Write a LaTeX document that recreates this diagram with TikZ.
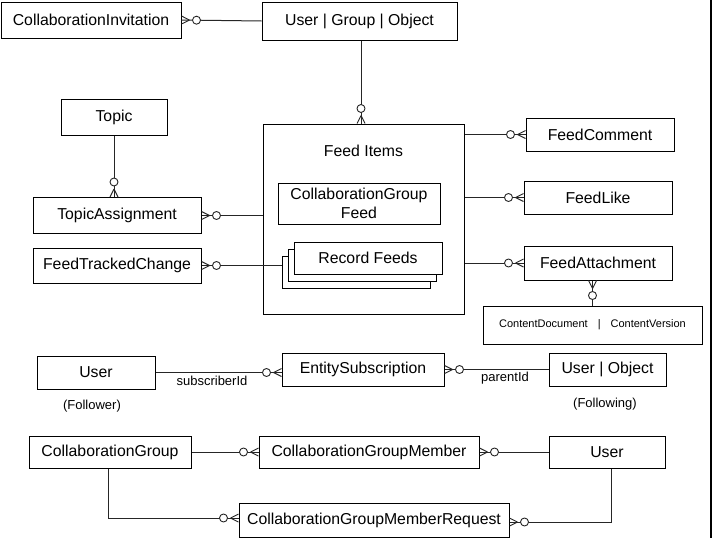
\documentclass[tikz,border=0pt]{standalone}
\usepackage{fontspec}
\setmainfont{Liberation Sans}
\usetikzlibrary{decorations.markings,calc}
\tikzset{
  ent/.style={draw=black, line width=1pt, fill=white, inner sep=0pt, align=center,
    font=\fontsize{15.8}{19.5}\selectfont},
  plain/.style={inner sep=0pt, font=\fontsize{15.8}{19.5}\selectfont},
  lbl/.style={inner sep=0pt, font=\fontsize{13}{15}\selectfont},
  conn/.style={draw=black!85, line width=1pt},
  many/.style={postaction={decorate, decoration={markings, mark=at position 1 with {
      \draw[line width=0.9pt, black!85] (-8pt,0pt) -- (0pt,4pt) (-8pt,0pt) -- (0pt,-4pt);
      \draw[line width=0.9pt, black!85, fill=white] (-15pt,0pt) circle (4pt);
  }}}},
}
\begin{document}
\begin{tikzpicture}[x=1pt,y=-1pt]
\useasboundingbox (0,0) rectangle (712,538);
\fill[white] (0,0) rectangle (712,538);
\fill[black] (709.5,0) rectangle (712,538);

% top
\node[ent, minimum width=180, minimum height=36] (inv) at (91,20) {CollaborationInvitation};
\node[ent, minimum width=195, minimum height=38] (ugo) at (359.5,21) {User | Group | Object};

% left
\node[ent, minimum width=106, minimum height=36] (topic) at (114,117) {Topic};
\node[ent, minimum width=168, minimum height=36] (ta) at (117,215.5) {TopicAssignment};
\node[ent, minimum width=168, minimum height=35] (ftc) at (117,265.5) {FeedTrackedChange};

% feed items
\node[ent, minimum width=201, minimum height=190] (fi) at (363.5,219) {};
\node[plain] (fit) at (363.5,151) {Feed Items};
\node[ent, minimum width=162, minimum height=41] (cgf) at (359,203.5) {CollaborationGroup\\Feed};
\node[ent, minimum width=148, minimum height=32] (rf3) at (356,272) {};
\node[ent, minimum width=148, minimum height=32] (rf2) at (362,265) {};
\node[ent, minimum width=148, minimum height=32] (rf1) at (368,258) {Record Feeds};

% right
\node[ent, minimum width=148, minimum height=33] (fc) at (600,134.5) {FeedComment};
\node[ent, minimum width=148, minimum height=33] (fl) at (598,197.5) {FeedLike};
\node[ent, minimum width=148, minimum height=34] (fa) at (598,263) {FeedAttachment};
\node[ent, minimum width=219, minimum height=38, font=\fontsize{11}{13}\selectfont] (cdcv) at (592.5,325)
  {ContentDocument\hspace{10pt}|\hspace{10pt}ContentVersion};

% subscription row
\node[ent, minimum width=118, minimum height=33] (userf) at (96,372.5) {User};
\node[ent, minimum width=162, minimum height=33] (es) at (363,369.5) {EntitySubscription};
\node[ent, minimum width=117, minimum height=33] (uo) at (607.5,369.5) {User | Object};
\node[lbl] (follower) at (92,406) {(Follower)};
\node[lbl] (following) at (605,404) {(Following)};
\node[lbl] (subid) at (212,381) {subscriberId};
\node[lbl] (pid) at (505,378) {parentId};

% group row
\node[ent, minimum width=162, minimum height=32] (cg) at (110,452) {CollaborationGroup};
\node[ent, minimum width=220, minimum height=32] (cgm) at (369,452) {CollaborationGroupMember};
\node[ent, minimum width=116, minimum height=32] (userb) at (607,452) {User};
\node[ent, minimum width=270, minimum height=34] (cgmr) at (374,520) {CollaborationGroupMemberRequest};

% connectors
\draw[conn, many] (ugo.west) -- (inv.east);
\draw[conn, many] ([xshift=1.5pt]ugo.south) -- ([xshift=1.5pt]ugo.south |- fi.north);
\draw[conn, many] (topic.south) -- (topic.south |- ta.north);
\draw[conn, many] (fi.west |- ta.east) -- (ta.east);
\draw[conn, many] (ftc.east -| rf3.west) -- (ftc.east);
\draw[conn, many] (fi.east |- fc.west) -- (fc.west);
\draw[conn, many] (fi.east |- fl.west) -- (fl.west);
\draw[conn, many] (fi.east |- fa.west) -- (fa.west);
\draw[conn, many] (cdcv.north) -- (cdcv.north |- fa.south);
\draw[conn, many] (userf.east) -- (userf.east -| es.west);
\draw[conn, many] (uo.west) -- (uo.west -| es.east);
\draw[conn, many] (cg.east) -- (cgm.west);
\draw[conn, many] (userb.west) -- (cgm.east);
\draw[conn, many] ([xshift=-2pt]cg.south) |- ([yshift=2pt]cgmr.west);
\draw[conn, many] ([xshift=4pt]userb.south) |- ([yshift=-2pt]cgmr.east);
\end{tikzpicture}
\end{document}
